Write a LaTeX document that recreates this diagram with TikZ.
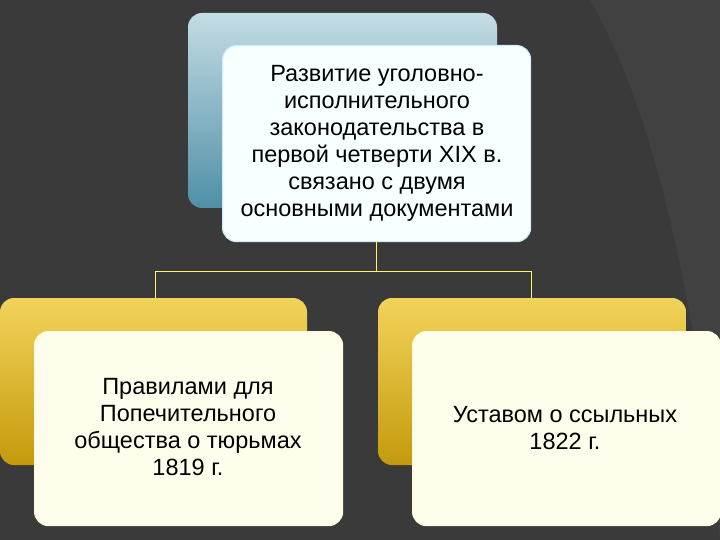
\documentclass[tikz,border=0pt]{standalone}
\usepackage{fontspec}
\setmainfont{Liberation Sans}
\definecolor{bluetop}{HTML}{C4DCE4}
\definecolor{bluebot}{HTML}{4F8FA6}
\definecolor{goldtop}{HTML}{F2D35A}
\definecolor{goldbot}{HTML}{C49A0C}
\definecolor{bgc}{HTML}{3A3A3A}
\definecolor{bgl}{HTML}{414141}
\begin{document}
\begin{tikzpicture}[x=1pt,y=-1pt,
  backblue/.style={rounded corners=14pt,top color=bluetop,bottom color=bluebot},
  backgold/.style={rounded corners=14pt,top color=goldtop,bottom color=goldbot},
  frontblue/.style={rounded corners=14pt,draw=cyan!20!white,line width=1.2pt,fill=blue!3!cyan!3!white},
  frontgold/.style={rounded corners=14pt,draw=yellow!15!white,line width=1.2pt,fill=yellow!7!white},
  txt/.style={font=\fontsize{23.5}{27}\selectfont,align=center,text=black},
  conn/.style={draw=yellow!60!white,line width=0.8pt}]
\fill[bgc] (0,0) rectangle (720,540);
\fill[bgl] (590,0) .. controls (660,120) and (700,330) .. (720,540) -- (720,0) -- cycle;
\useasboundingbox (0,0) rectangle (720,540);
\path[backblue] (188,13) rectangle (497,208);
\node[frontblue,minimum width=308pt,minimum height=196pt,anchor=north west] (top) at (222,45) {};
\node[txt] (toptext) at (377,143) {Развитие уголовно-\\исполнительного\\законодательства в\\первой четверти XIX в.\\связано с двумя\\основными документами};
\path[backgold] (0,298) rectangle (307,465);
\path[backgold] (378,298) rectangle (686,465);
\node[frontgold,minimum width=308pt,minimum height=194pt,anchor=north west] (left) at (34,331) {};
\node[frontgold,minimum width=308pt,minimum height=194pt,anchor=north west] (right) at (412,331) {};
\node[txt] (lefttext) at (188,427) {Правилами для\\Попечительного\\общества о тюрьмах\\1819 г.};
\node[txt] (righttext) at (565,428) {Уставом о ссыльных\\1822 г.};
\coordinate (lt) at (155,298);
\coordinate (rt) at (531,298);
\draw[conn] (top.south) -- ++(0,29) -| (lt);
\draw[conn] (top.south) ++(0,29) -| (rt);
\end{tikzpicture}
\end{document}
